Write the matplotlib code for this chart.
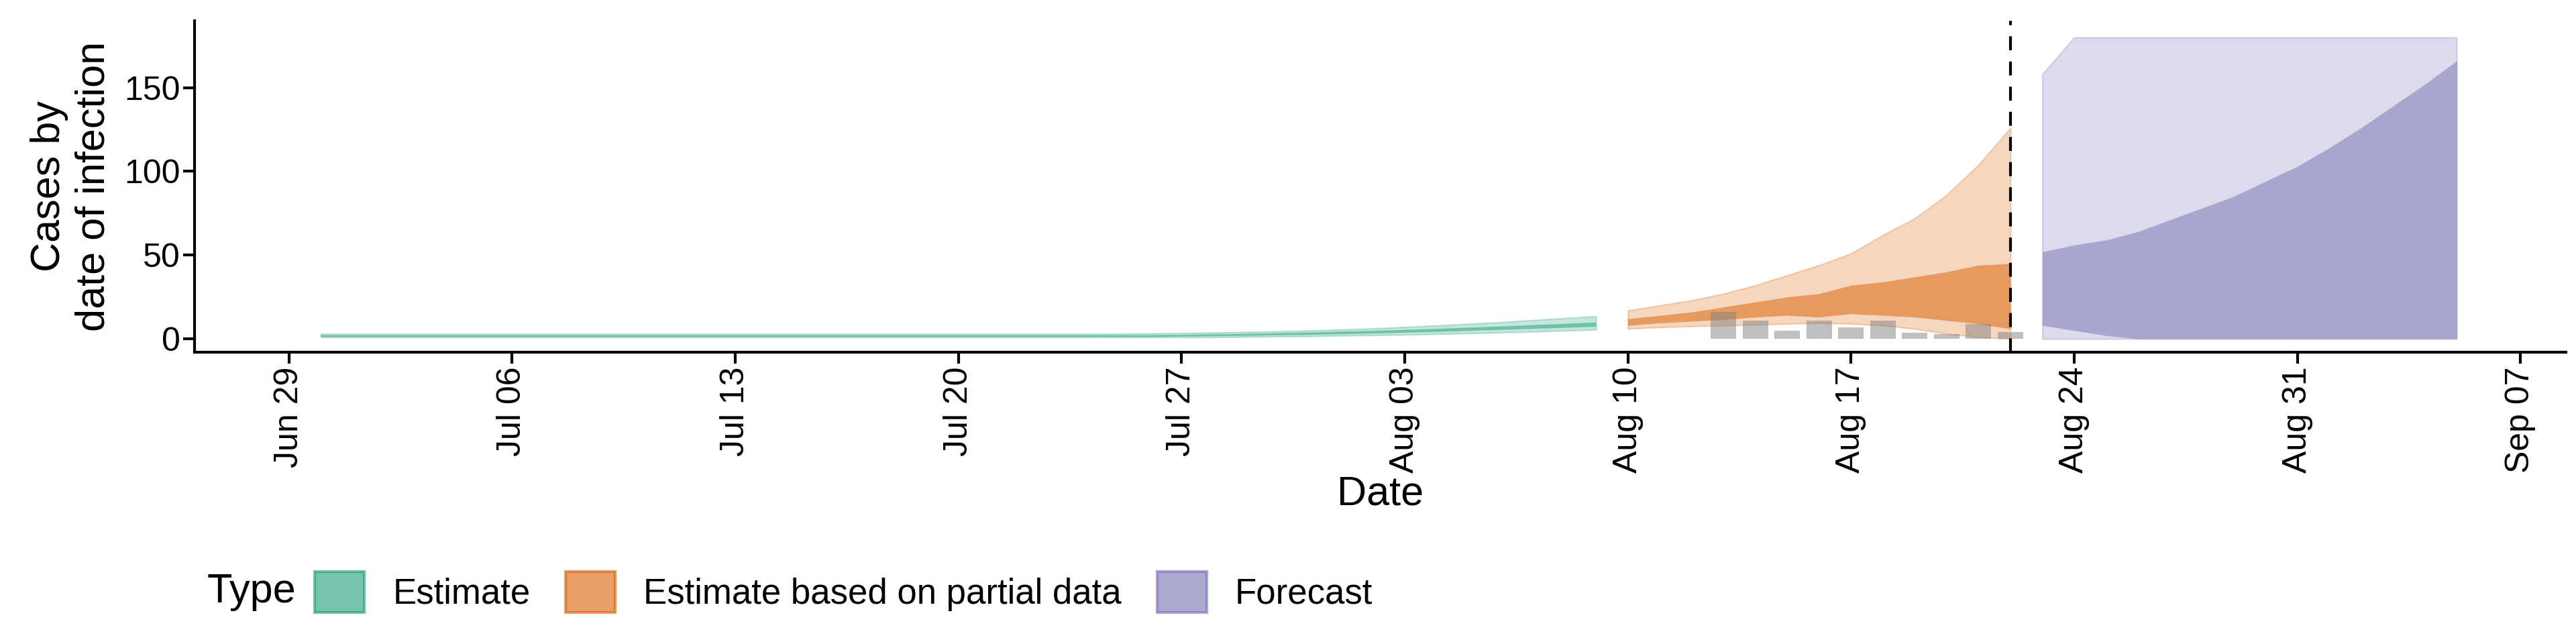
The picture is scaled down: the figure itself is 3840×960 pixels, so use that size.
import numpy as np
import pandas as pd
import matplotlib.pyplot as plt
import matplotlib.dates as mdates
from matplotlib.patches import Patch
from matplotlib.offsetbox import HPacker

# --- data ---
est_dates = pd.date_range("2020-06-30", "2020-08-09")
est_lo90 = np.concatenate([np.full(29, 1.0), [1.2, 1.4, 1.6, 1.9, 2.2, 2.5, 2.9, 3.3, 3.8, 4.3, 4.9, 5.5]])
est_hi90 = np.concatenate([np.full(25, 3.0), [3.1, 3.3, 3.5, 3.8, 4.1, 4.5, 5.0, 5.6, 6.3, 7.1, 8.0, 9.0, 10.0, 11.2, 12.4, 13.5]])
est_lo50 = np.concatenate([np.full(27, 1.4), [1.6, 1.8, 2.0, 2.3, 2.6, 3.0, 3.4, 3.9, 4.4, 5.0, 5.6, 6.2, 6.8, 7.4]])
est_hi50 = np.concatenate([np.full(27, 2.4), [2.6, 2.9, 3.2, 3.6, 4.0, 4.5, 5.0, 5.6, 6.2, 6.9, 7.6, 8.4, 9.2, 10.0]])

part_dates = pd.date_range("2020-08-10", "2020-08-22")
part_lo90 = [6, 7, 7.5, 8, 8.5, 9, 9.5, 9, 8, 6, 3, 1, 0]
part_hi90 = [17, 20, 23, 27, 32, 38, 44, 51, 62, 72, 86, 104, 126]
part_lo50 = [8, 9.5, 10.5, 11.5, 13, 14, 13, 15, 14, 13, 11, 9, 6]
part_hi50 = [12, 14, 16, 19, 22, 25, 27, 32, 34, 37, 40, 44, 45]

fc_dates = pd.date_range("2020-08-23", "2020-09-05")
fc_lo90 = [0] * 14
fc_hi90 = [158] + [180] * 13
fc_lo50 = [8, 5, 2, 0, 0, 0, 0, 0, 0, 0, 0, 0, 0, 0]
fc_hi50 = [52, 56, 59, 64, 71, 78, 85, 94, 103, 114, 126, 139, 152, 166]

obs_dates = pd.date_range("2020-08-13", "2020-08-22")
obs_cases = [16, 11, 5, 11, 7, 11, 3.6, 3, 9, 4]

green, orange, purple = "#1b9e77", "#d95f02", "#7570b3"

plt.rcParams["font.family"] = ["Liberation Sans", "DejaVu Sans"]
fig = plt.figure(figsize=(38.4, 9.6), dpi=100)
ax = fig.add_axes([0.0755, 0.453, 0.9205, 0.515])

ax.bar(obs_dates, obs_cases, width=0.8, color="grey", alpha=0.5, zorder=3)

for d, lo, hi, l5, h5, c in [
    (est_dates, est_lo90, est_hi90, est_lo50, est_hi50, green),
    (part_dates, part_lo90, part_hi90, part_lo50, part_hi50, orange),
    (fc_dates, fc_lo90, fc_hi90, fc_lo50, fc_hi50, purple),
]:
    ax.fill_between(d, lo, hi, color=c, alpha=0.25, lw=1.5, edgecolor=c, zorder=2)
    ax.fill_between(d, l5, h5, color=c, alpha=0.5, lw=0, zorder=2)

ax.axvline(pd.Timestamp("2020-08-22"), color="black", ls=(0, (5, 4)), lw=3)

ax.set_xlim(pd.Timestamp("2020-06-26 01:00"), pd.Timestamp("2020-09-08 10:00"))
ax.set_ylim(-8, 190)
ax.set_yticks([0, 50, 100, 150])
ax.set_xticks(pd.date_range("2020-06-29", "2020-09-07", freq="7D"))
ax.xaxis.set_major_formatter(mdates.DateFormatter("%b %d"))
plt.setp(ax.get_xticklabels(), rotation=90, va="top", ha="center")

for s in ["top", "right"]:
    ax.spines[s].set_visible(False)
for s in ["left", "bottom"]:
    ax.spines[s].set_linewidth(3)
ax.tick_params(labelsize=36, width=3, length=12, colors="black")
ax.set_xlabel("Date", fontsize=44, labelpad=2)
ax.set_ylabel("Cases by\ndate of infection", fontsize=44, labelpad=12)

handles = [Patch(facecolor=c, edgecolor=c, alpha=0.6, lw=3) for c in (green, orange, purple)]
fig.legend(handles, ["Estimate", "Estimate based on partial data", "Forecast"],
           loc="lower left", bbox_to_anchor=(0.068, 0.0), ncol=3, frameon=False,
           fontsize=38, title="Type", title_fontsize=44, handlelength=1.4,
           handleheight=1.4, columnspacing=1.0, handletextpad=0.8)
leg = fig.legends[0]
# put title to the left of entries
box = leg._legend_box
box._children = [HPacker(children=[box._children[0], box._children[1]], sep=20, pad=0, align="center")]

fig.savefig("out.png", dpi=100)
